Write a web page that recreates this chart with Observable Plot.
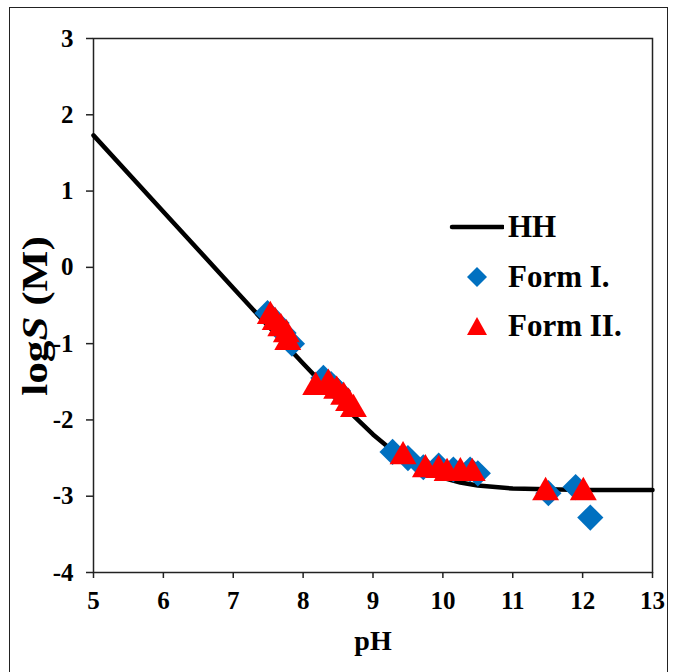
<!DOCTYPE html>
<html><head><meta charset="utf-8">
<script src="https://cdn.jsdelivr.net/npm/d3@7"></script>
<script src="https://cdn.jsdelivr.net/npm/@observablehq/plot@0.6"></script>
<style>
body{margin:0;background:#fff;}
#wrap{position:relative;width:673px;height:672px;font-family:'Liberation Serif',serif;font-weight:bold;color:#000;overflow:hidden;}
#border{position:absolute;left:9px;top:7px;width:659px;height:690px;border:1.5px solid #222;box-sizing:border-box;pointer-events:none;}
#chart{position:absolute;left:0;top:0;}
.leg{position:absolute;left:448px;font-size:31px;line-height:1;white-space:nowrap;}
.leg svg{vertical-align:middle;}
</style></head>
<body>
<div id="wrap"><div id="chart"></div><div id="border"></div>
<div id="legend"></div></div>
<script>
// HH curve
const hhPH   = [5, 6, 7, 7.5, 8, 8.5, 8.75, 9, 9.25, 9.5, 9.75, 10, 10.25, 10.5, 11, 11.5, 12, 13];
const hhLogS = [1.73, 0.73, -0.27, -0.77, -1.26, -1.74, -1.97, -2.19, -2.38, -2.55, -2.67, -2.76, -2.82, -2.86, -2.9, -2.91, -2.92, -2.92];
// Form I. (blue diamonds)
const formI_pH   = [7.49, 7.62, 7.72, 7.84, 8.29, 8.4, 8.5, 9.28, 9.5, 9.72, 9.94, 10.15, 10.39, 10.5, 11.51, 11.9, 12.11];
const formI_logS = [-0.6, -0.73, -0.86, -1.0, -1.45, -1.53, -1.62, -2.42, -2.5, -2.62, -2.6, -2.65, -2.65, -2.7, -2.96, -2.88, -3.28];
// Form II. (red triangles)
const formII_pH   = [7.53, 7.6, 7.68, 7.76, 7.78, 8.18, 8.36, 8.48, 8.58, 8.65, 8.72, 9.43, 9.75, 9.94, 10.06, 10.25, 10.42, 11.47, 12.01];
const formII_logS = [-0.64, -0.72, -0.8, -0.88, -0.98, -1.57, -1.53, -1.62, -1.7, -1.78, -1.86, -2.48, -2.65, -2.66, -2.7, -2.69, -2.7, -2.95, -2.95];
// ticks
const xTicks = [5, 6, 7, 8, 9, 10, 11, 12, 13];
const yTicks = [3, 2, 1, 0, -1, -2, -3, -4];
const legendLabels = ["HH", "Form I.", "Form II."];

const hh = hhPH.map((x, i) => ({x, y: hhLogS[i]}));
const f1 = formI_pH.map((x, i) => ({x, y: formI_logS[i]}));
const f2 = formII_pH.map((x, i) => ({x, y: formII_logS[i]}));

const FONT = "Liberation Serif";
const plot = Plot.plot({
  width: 673, height: 672,
  marginLeft: 93, marginRight: 21, marginTop: 38, marginBottom: 100,
  style: {fontFamily: FONT, fontWeight: "bold", fontSize: "24px", color: "#000", background: "transparent"},
  x: {domain: [5, 13]},
  y: {domain: [-4, 3]},
  marks: [
    Plot.frame({stroke: "#222", strokeWidth: 1.5}),
    Plot.axisX({ticks: xTicks, tickSize: 6, tickPadding: 13, tickFormat: d => String(d), label: null, stroke: "#222", strokeWidth: 1.5,
      fontFamily: FONT, fontWeight: "bold", fontSize: 25}),
    Plot.axisY({ticks: yTicks, tickSize: 7, tickPadding: 13, tickFormat: d => String(d), label: null, stroke: "#222", strokeWidth: 1.5,
      fontFamily: FONT, fontWeight: "bold", fontSize: 25}),
    Plot.line(hh, {x: "x", y: "y", stroke: "#000", strokeWidth: 4.5, curve: "linear"}),
    Plot.dot(f1, {x: "x", y: "y", symbol: "diamond2", r: 11.8, fill: "#0070C0", stroke: "none"}),
    Plot.dot(f2, {x: "x", y: "y", symbol: "triangle", r: 10, fill: "#FF0000", stroke: "none"})
  ]
});
document.getElementById("chart").appendChild(plot);

const svg = d3.select(plot);
svg.selectAll("text").attr("font-family", FONT).attr("font-weight", "bold").attr("fill", "#000");
// x title
svg.append("text").attr("x", 373).attr("y", 650).attr("text-anchor", "middle")
  .attr("font-family", FONT).attr("font-weight", "bold").attr("font-size", 28)
  .attr("fill", "#000").text("pH");
// y title
const yt = svg.append("text").attr("transform", "translate(47,316) rotate(-90) scale(1.2,1)").attr("text-anchor", "middle")
  .attr("font-family", FONT).attr("font-weight", "bold").attr("font-size", 36).attr("fill", "#000");
yt.append("tspan").text("log");
yt.append("tspan").attr("font-style", "italic").text("S");
yt.append("tspan").text(" (M)");

// legend (HTML overlay)
const leg = document.getElementById("legend");
const items = [
  {top: 208, sym: '<svg width="56" height="30"><line x1="4" y1="15" x2="55" y2="15" stroke="#000" stroke-width="4.5" stroke-linecap="round"/></svg>'},
  {top: 258, sym: '<svg width="56" height="30"><path d="M29,5 L39,15 L29,25 L19,15Z" fill="#0070C0"/></svg>'},
  {top: 307, sym: '<svg width="56" height="30"><path d="M29,6 L39,24 L19,24Z" fill="#FF0000"/></svg>'}
];
items.forEach((it, i) => {
  const d = document.createElement("div");
  d.className = "leg";
  d.style.top = it.top + "px";
  d.innerHTML = it.sym + '<span style="vertical-align:middle;margin-left:4px">' + legendLabels[i] + '</span>';
  leg.appendChild(d);
});
</script>
</body></html>
